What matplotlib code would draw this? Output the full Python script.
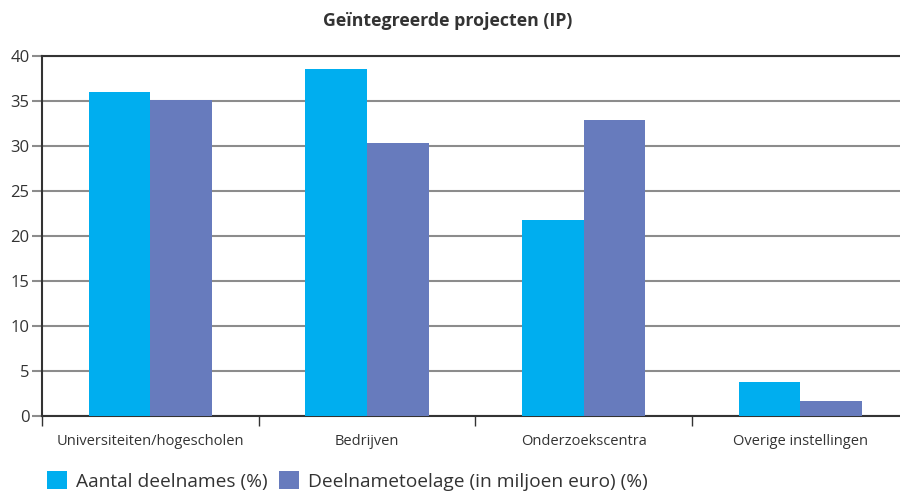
import numpy as np
import matplotlib
matplotlib.use("Agg")
import matplotlib.pyplot as plt
from matplotlib.ticker import FixedLocator

plt.rcParams['font.family'] = ['Open Sans', 'DejaVu Sans']

categories = ["Universiteiten/hogescholen", "Bedrijven", "Onderzoekscentra", "Overige instellingen"]
aantal = [36.0, 38.6, 21.8, 3.8]
toelage = [35.1, 30.4, 32.9, 1.7]
series_names = ["Aantal deelnames (%)", "Deelnametoelage (in miljoen euro) (%)"]
colors = ["#00aeef", "#677bbd"]

fig = plt.figure(figsize=(9, 4.93), dpi=100)
ax = fig.add_axes([0.0467, 0.156, 0.9533, 0.73])

x = np.arange(len(categories))
w = 0.285
ax.bar(x - w / 2, aantal, w, color=colors[0], label=series_names[0], zorder=3)
ax.bar(x + w / 2, toelage, w, color=colors[1], label=series_names[1], zorder=3)

ax.set_ylim(0, 40)
ax.set_xlim(-0.5, 3.46)
ax.set_yticks(range(0, 41, 5))
ax.yaxis.grid(True, color="#8c8c8c", linewidth=1.5, zorder=0)

ax.set_xticks(x)
ax.set_xticklabels(categories, fontsize=10.5, color="#333333")
ax.xaxis.set_minor_locator(FixedLocator([-0.5, 0.5, 1.5, 2.5]))
ax.tick_params(axis="x", which="major", length=0, pad=13)
ax.tick_params(axis="x", which="minor", length=7, width=1, color="#333333")
ax.tick_params(axis="y", length=7, width=1.5, color="#8c8c8c", labelsize=12,
               labelcolor="#333333", pad=2)

for s in ["left", "bottom", "top"]:
    ax.spines[s].set_color("#333333")
    ax.spines[s].set_linewidth(1.5)
ax.spines["right"].set_visible(False)

fig.suptitle("Geïntegreerde projecten (IP)", x=0.497, y=0.975, fontsize=12.8,
             fontweight="bold", color="#333333")

fig.legend(loc="lower left", bbox_to_anchor=(0.033, -0.03), ncol=2, frameon=False,
           fontsize=13.8, handlelength=1.05, handleheight=1.1, handletextpad=0.45,
           columnspacing=0.6, labelcolor="#333333")

fig.savefig("out.png", dpi=100)
